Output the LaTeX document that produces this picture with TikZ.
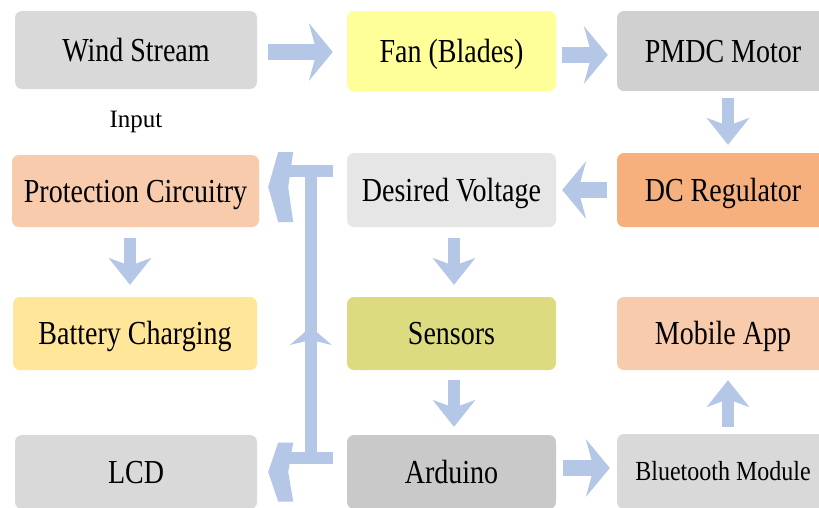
\documentclass[tikz,border=0pt]{standalone}
\usepackage{fontspec}
\setmainfont{Liberation Serif}
\usetikzlibrary{arrows.meta}
\definecolor{arrowblue}{HTML}{B4C7E7}
\definecolor{cWS}{HTML}{D9D9D9}
\definecolor{cFan}{HTML}{FFFF99}
\definecolor{cPM}{HTML}{D0D0D0}
\definecolor{cProt}{HTML}{F8CBAD}
\definecolor{cDV}{HTML}{E7E6E6}
\definecolor{cDC}{HTML}{F6B07E}
\definecolor{cBat}{HTML}{FFE699}
\definecolor{cSen}{HTML}{DDDB80}
\definecolor{cMob}{HTML}{F8CBAD}
\definecolor{cLCD}{HTML}{D9D9D9}
\definecolor{cArd}{HTML}{C9C9C9}
\definecolor{cBT}{HTML}{D9D9D9}
\newcommand{\bigtxt}[1]{\scalebox{1}[1.2]{\fontsize{28}{30}\selectfont #1}}
\begin{document}
\begin{tikzpicture}[x=1pt,y=-1pt,
  box/.style={rounded corners=7pt, inner sep=0pt, anchor=center, text=black,
    text height=22.2pt, text depth=0pt},
  harrow/.style={draw=arrowblue, line width=16pt,
    -{Stealth[length=24pt,width=58pt,inset=8pt,line width=0pt]}},
  varrow/.style={draw=arrowblue, line width=12pt,
    -{Stealth[length=27pt,width=43pt,inset=8pt,line width=0pt]}},
  lbar/.style={draw=arrowblue, line width=12pt},
  headfill/.style={fill=arrowblue, draw=none}
]
\useasboundingbox (0,0) rectangle (819,507);
\fill[white] (0,0) rectangle (819,507);

% boxes
\node[box, fill=cWS, minimum width=242pt, minimum height=78pt] (ws) at (136,50) {\bigtxt{Wind Stream}};
\node[box, fill=cFan, minimum width=209pt, minimum height=80pt] (fan) at (451.5,51) {\bigtxt{Fan (Blades)}};
\node[box, fill=cPM, minimum width=212pt, minimum height=80pt] (pmdc) at (723,51) {\bigtxt{PMDC Motor}};
\node[anchor=base, inner sep=0pt, font=\fontsize{25}{27}\selectfont] (in) at (136,127) {Input};
\node[box, fill=cProt, minimum width=247pt, minimum height=72pt] (prot) at (135.5,191) {\bigtxt{Protection Circuitry}};
\node[box, fill=cDV, minimum width=209pt, minimum height=74pt] (dv) at (451.5,190) {\bigtxt{Desired Voltage}};
\node[box, fill=cDC, minimum width=212pt, minimum height=74pt] (dcr) at (723,190) {\bigtxt{DC Regulator}};
\node[box, fill=cBat, minimum width=244pt, minimum height=73pt] (bat) at (135,333.5) {\bigtxt{Battery Charging}};
\node[box, fill=cSen, minimum width=209pt, minimum height=73pt] (sens) at (451.5,333.5) {\bigtxt{Sensors}};
\node[box, fill=cMob, minimum width=212pt, minimum height=73pt] (mob) at (723,333.5) {\bigtxt{Mobile App}};
\node[box, fill=cLCD, minimum width=242pt, minimum height=74pt] (lcd) at (136,472) {\bigtxt{LCD}};
\node[box, fill=cArd, minimum width=209pt, minimum height=74pt] (ard) at (451.5,472) {\bigtxt{Arduino}};
\node[box, fill=cBT, minimum width=212pt, minimum height=75pt, text height=18.3pt] (bt) at (723,471.5) {\scalebox{1}[1.15]{\fontsize{24}{26}\selectfont Bluetooth Module}};

% straight arrows
\draw[harrow, shorten <=11pt, shorten >=14pt] ([yshift=-2pt]ws.east) -- ([yshift=-2pt]ws.east -| fan.west);
\draw[harrow, shorten <=6pt, shorten >=9pt] ([yshift=-4pt]fan.east) -- ([yshift=-4pt]fan.east -| pmdc.west);
\draw[varrow, shorten <=7pt, shorten >=8pt] ([xshift=5pt]pmdc.south) -- ([xshift=5pt]pmdc.south |- dcr.north);
\draw[harrow, shorten <=10pt, shorten >=6pt] (dcr.west) -- (dcr.west -| dv.east);
\draw[varrow, shorten <=11pt, shorten >=12pt] ([xshift=2.5pt]dv.south) -- ([xshift=2.5pt]dv.south |- sens.north);
\draw[varrow, shorten <=10pt, shorten >=8pt] ([xshift=2.5pt]sens.south) -- ([xshift=2.5pt]sens.south |- ard.north);
\draw[varrow, shorten <=11pt, shorten >=12pt] ([xshift=-5.5pt]prot.south) -- ([xshift=-5.5pt]prot.south |- bat.north);
\draw[varrow, shorten <=7pt, shorten >=10pt] ([xshift=5pt]bt.north) -- ([xshift=5pt]bt.north |- mob.south);
\draw[harrow, shorten <=7pt, shorten >=7pt] ([yshift=4pt]ard.east) -- ([yshift=4pt]ard.east -| bt.west);

% left bent connector group
\coordinate (jt) at ([xshift=-36pt, yshift=19pt]dv.west);
\coordinate (jb) at ([xshift=-36pt, yshift=14pt]ard.west);
\coordinate (tipP) at ([xshift=9pt,yshift=4pt]prot.east);
\coordinate (tipL) at ([xshift=11pt]lcd.east);
\coordinate (tipU) at ([yshift=-156pt]jt);
\draw[lbar] ([xshift=-14pt]dv.west |- jt) -- ([xshift=26pt]prot.east |- jt);
\draw[lbar] (jt) -- (jb);
\draw[lbar] ([xshift=-14pt]ard.west |- jb) -- ([xshift=28pt]lcd.east |- jb);
\fill[headfill] (tipP) -- ++(10,-35) -- ++(15,0) -- ++(-5,35) -- ++(5,35) -- ++(-15,0) -- cycle;
\fill[headfill] (tipL) -- ++(10,-29.5) -- ++(15,0) -- ++(-5,29.5) -- ++(5,29.5) -- ++(-15,0) -- cycle;
\fill[headfill] (tipU) -- ++(-21,18) -- ++(21,-5) -- ++(21,5) -- cycle;
\end{tikzpicture}
\end{document}
